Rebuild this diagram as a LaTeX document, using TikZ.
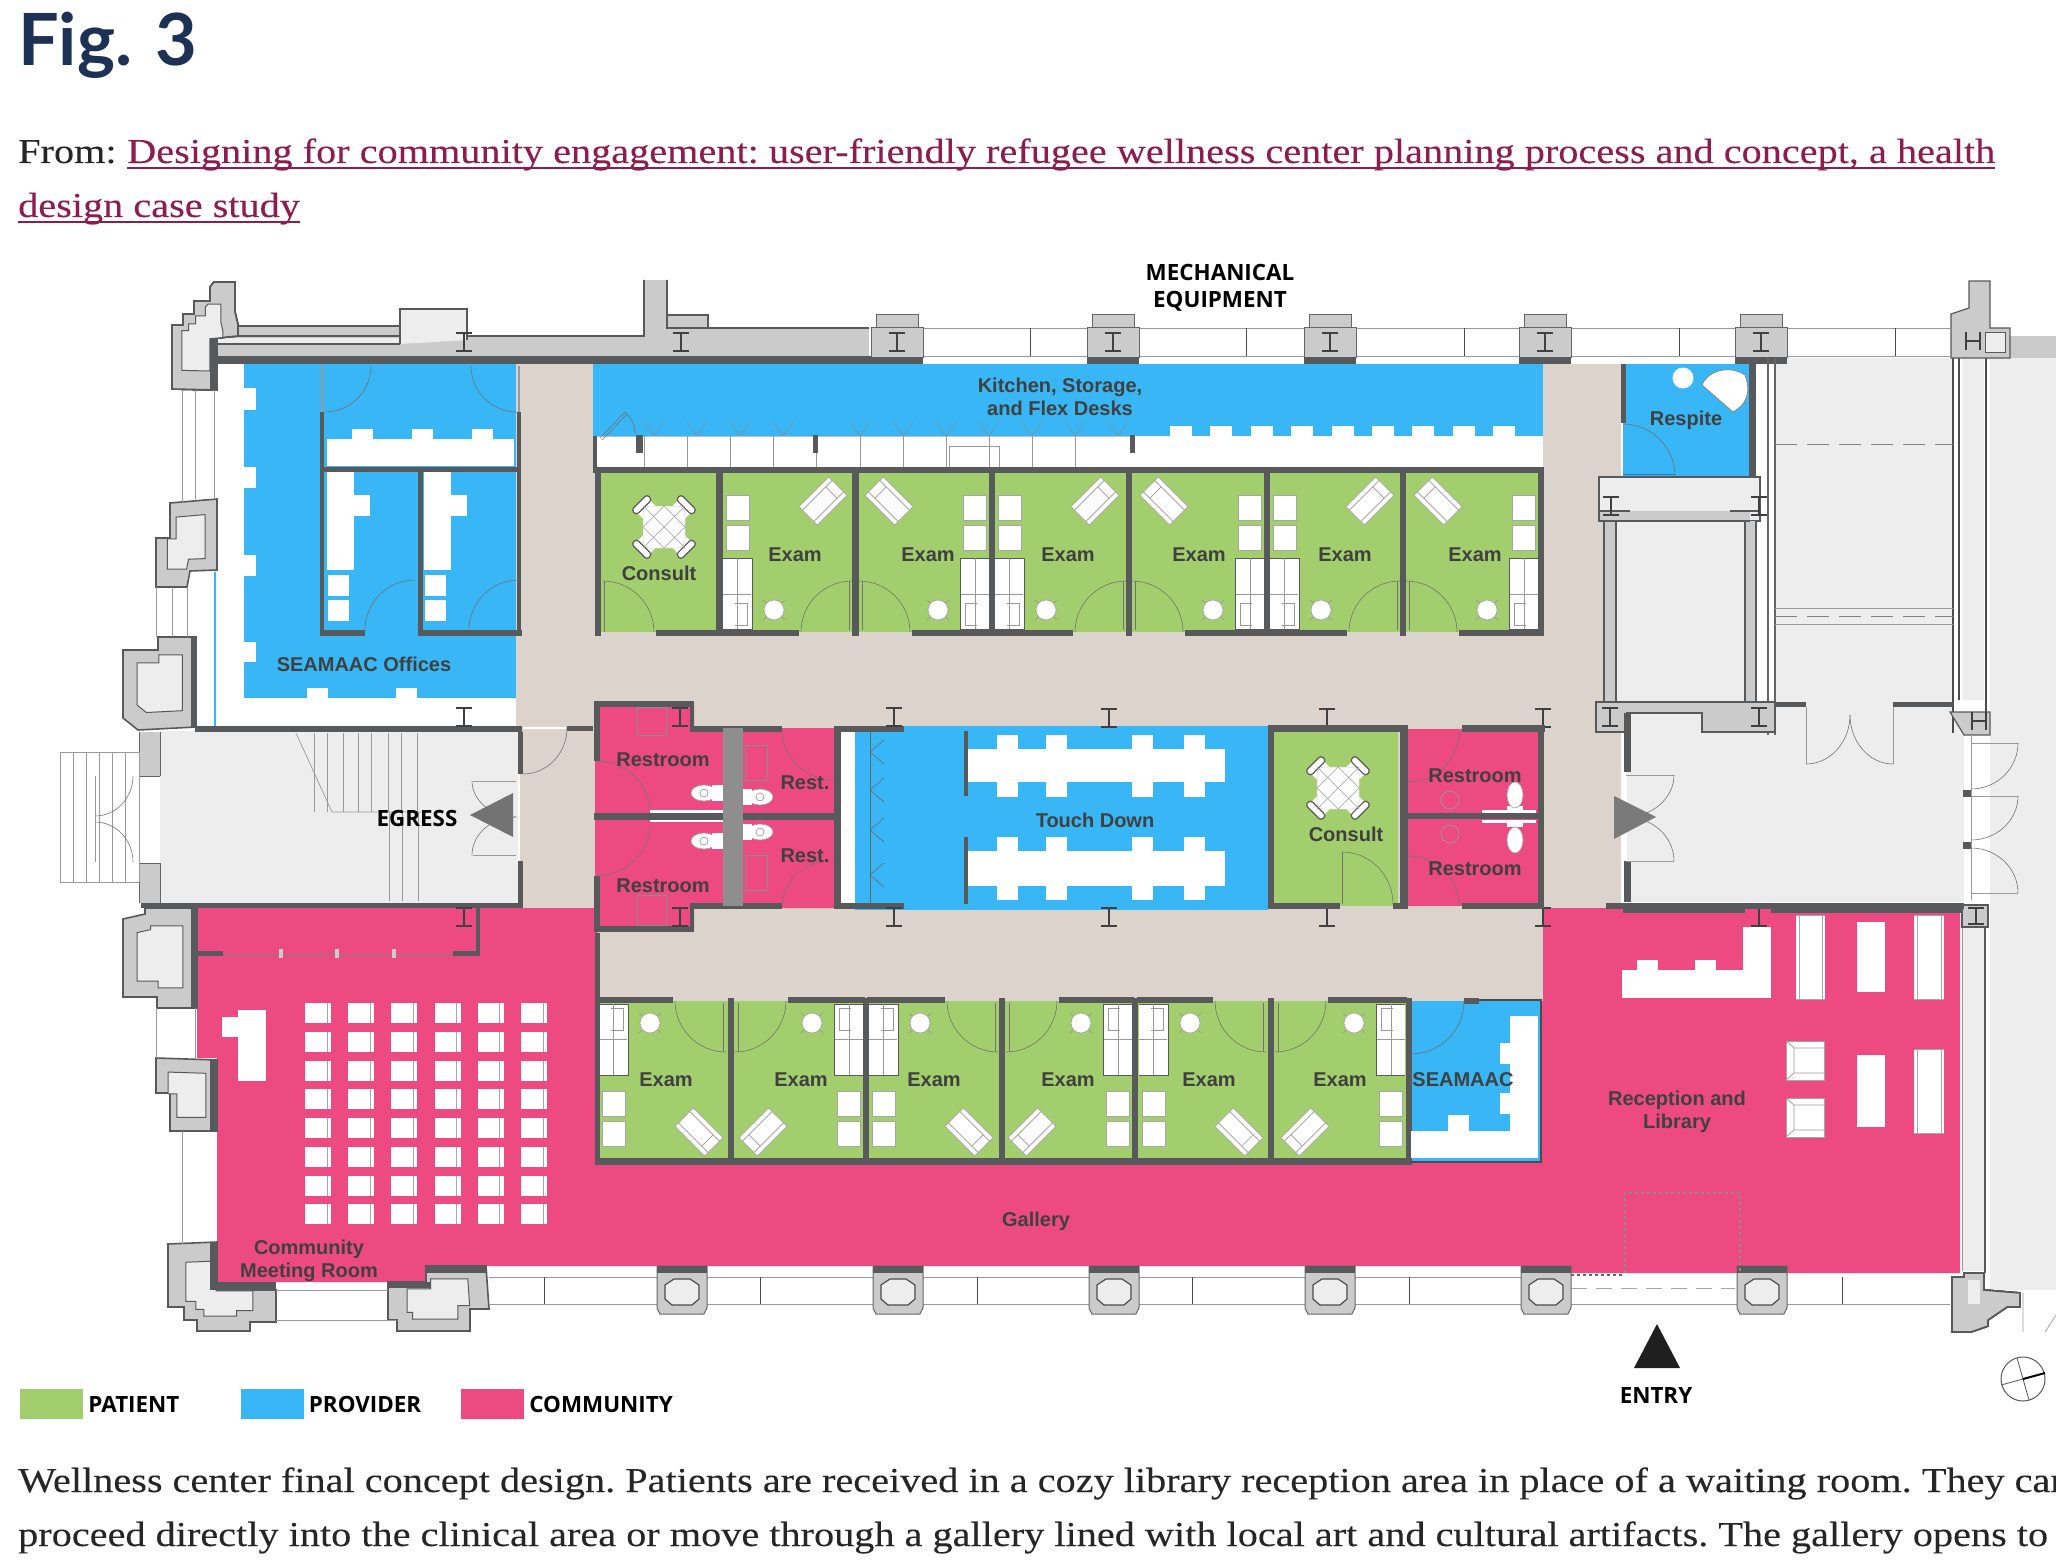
\documentclass[tikz,border=0pt]{standalone}
\usepackage{fontspec}
\setmainfont[FakeStretch=1.15,FakeBold=0.12]{Liberation Serif}
\newfontfamily\roomfont{Liberation Sans}
\newfontfamily\capsfont{Open Sans}
\newfontfamily\headfont{Lato}
\usetikzlibrary{positioning}
\definecolor{patientc}{HTML}{A2CE6D}
\definecolor{providerc}{HTML}{38B6F5}
\definecolor{communityc}{HTML}{EE4A82}
\definecolor{hallc}{HTML}{DCD3CD}
\definecolor{lightc}{HTML}{EDEDED}
\definecolor{wallc}{HTML}{CBCBCB}
\definecolor{darkc}{HTML}{58595B}
\definecolor{midc}{HTML}{8E8E8E}
\definecolor{navyc}{HTML}{1C3154}
\definecolor{linkc}{HTML}{8C1D4F}
\tikzset{
  roomlabel/.style={font=\roomfont\bfseries\fontsize{20}{22.5}\selectfont, text=black!75, align=center, inner sep=0pt},
  capslabel/.style={font=\capsfont\bfseries\fontsize{22.4}{27}\selectfont, text=black, align=center, inner sep=0pt},
  bodytext/.style={font=\frenchspacing\fontsize{35}{40}\selectfont, anchor=base west, inner sep=0pt, text=black!85},
  linktext/.style={bodytext, text=linkc},
  swatch/.style={minimum width=63pt, minimum height=30pt, inner sep=0pt},
  doorline/.style={draw=black!55, line width=.6pt},
  thinline/.style={draw=black!40, line width=.7pt},
  seat/.style={fill=white, draw=black!35, line width=.7pt},
  pier/.style={fill=wallc, draw=darkc, line width=1.6pt, line join=miter},
  pierin/.style={fill=lightc, draw=darkc, line width=1pt}
}
\newcommand{\doorswing}[4]{\draw[doorline] ({#1+(#3)},#2) .. controls ({#1+(#3)},{#2+.55*(#4)}) and ({#1+.55*(#3)},{#2+(#4)}) .. (#1,{#2+(#4)});}
\newcommand{\ibeam}[2]{\draw[black!75, line width=1.8pt] (#1-8,#2-9) -- (#1+8,#2-9) (#1,#2-9) -- (#1,#2+9) (#1-8,#2+9) -- (#1+8,#2+9);}
\newcommand{\pierblock}[3]{
  \draw[pier] #1 -- cycle;
  \begin{scope}[shift={(#2,#3)}, scale=.62, shift={(-#2,-#3)}]
    \draw[pierin] #1 -- cycle;
  \end{scope}
}
% one exam room: wall side, outer side, mirrored by the scales
\newcommand{\examroom}[6]{
  \begin{scope}[shift={(#1,#2)}, xscale=#3, yscale=#4]
    \draw[fill=white, draw=black!65, line width=.9pt] (0,86) -- (29,86) -- (29,157) -- (0,157);
    \draw[thinline] (0,122) -- (28,122) (14,86) -- (14,157) (12,131) -- (24,131) -- (24,153) -- (12,153);
    \draw[seat] (3,23+#6) rectangle (26,48+#6);
    \draw[seat] (3,53+#6) rectangle (26,78+#6);
    \draw[black!40, line width=.7pt] (51-11,138-10) -- (51+11,138+10) (51-11,138+10) -- (51+11,138-10);
    \draw[seat] (51,138) circle (10);
    \begin{scope}[shift={(100,29)}, rotate=45]
      \draw[seat, fill=white] (-21,-13) rectangle (21,13);
      \draw[thinline] (-21,-8) -- (21,-8) (-21,8) -- (21,8) (12,-8) -- (12,8);
    \end{scope}
    \fill[darkc] (-2,158) rectangle (#5-53,164);
    \doorswing{#5}{160}{-51}{-51}
    \draw[doorline] (#5-3,158) -- (#5-3,109);
  \end{scope}
}
\newcommand{\consulttable}[2]{
  \begin{scope}[shift={(#1,#2)}]
    \foreach \rr in {45,135,225,315} {
      \begin{scope}[rotate=\rr]
        \fill[white] (12,-9) rectangle (31,9);
        \draw[fill=white, draw=black!65, line width=1.2pt, rounded corners=3pt] (28,-11) rectangle (35,11);
      \end{scope}
    }
    \draw[fill=white, draw=black!20, line width=.5pt, rounded corners=7pt] (-21,-21) rectangle (21,21);
    \draw[black!32, line width=.7pt] (-21,-21) -- (21,21) (-21,21) -- (21,-21) (-21,0) -- (0,-21) -- (21,0) -- (0,21) -- cycle;
  \end{scope}
}
\newcommand{\topcol}[1]{
  \draw[fill=wallc, draw=black!60, line width=1pt] (#1-21,315) rectangle (#1+21,327);
  \draw[fill=wallc, draw=black!60, line width=1pt] (#1-26,327) rectangle (#1+26,357);
  \fill[darkc] (#1-26,357) rectangle (#1+26,364);
  \ibeam{#1}{342}
}
\newcommand{\botcol}[1]{
  \draw[fill=wallc, draw=black!60, line width=1pt] (#1-25,1266) -- (#1+25,1266) -- (#1+25,1308) -- (#1+22,1314) -- (#1-22,1314) -- (#1-25,1308) -- cycle;
  \fill[darkc] (#1-25,1266) rectangle (#1+25,1273);
  \draw[fill=lightc, draw=black!70, line width=1.2pt] (#1-17,1285) -- (#1-8,1279) -- (#1+8,1279) -- (#1+17,1285) -- (#1+17,1299) -- (#1+10,1305) -- (#1-10,1305) -- (#1-17,1299) -- cycle;
}
\newcommand{\toiletseat}[2]{
  \draw[seat] (#1,#2) ellipse (13 and 8);
  \draw[thinline] (#1,#2) circle (4);
}
\begin{document}
\begin{tikzpicture}[x=1pt, y=-1pt]
  \useasboundingbox (0,0) rectangle (2056,1562);

  % title and source line
  \node[font=\headfont\bfseries\fontsize{72}{74}\selectfont, text=navyc, anchor=base west, inner sep=0pt] (figtitle) at (18,66) {Fig. 3};
  \node[bodytext] (fromtext) at (18,163) {From:};
  \node[linktext] (linkone) at (127,163) {Designing for community engagement: user-friendly refugee wellness center planning process and concept, a health};
  \node[linktext] (linktwo) at (18,217) {design case study};
  \draw[linkc, line width=2pt] ([yshift=-5pt]linkone.base west) -- ([yshift=-5pt]linkone.base east);
  \draw[linkc, line width=2pt] ([yshift=-5pt]linktwo.base west) -- ([yshift=-5pt]linktwo.base east);

  % floor colours
  \fill[hallc] (516,364) rectangle (1621,908);
  \fill[communityc] (197,908) -- (1960,908) -- (1960,1273) -- (1571,1273) -- (1571,1266) -- (426,1266) -- (426,1282) -- (217,1282) -- (217,1058) -- (197,1058) -- cycle;
  \fill[hallc] (598,908) rectangle (1543,1001);
  \fill[providerc] (244,364) rectangle (516,698);
  \fill[white] (217,364) rectangle (244,726);
  \fill[white] (217,698) rectangle (516,726);
  \fill[providerc] (593,364) rectangle (1543,436);
  \fill[white] (595,436) rectangle (1543,467);
  \fill[patientc] (599,472) rectangle (1538,632);
  \fill[patientc] (599,1001) rectangle (1410,1158);
  \fill[providerc] (1411,1001) rectangle (1541,1162);
  \fill[providerc] (1623,364) rectangle (1750,476);
  \fill[communityc] (595,702) -- (694,702) -- (694,728) -- (835,728) -- (835,908) -- (694,908) -- (694,930) -- (595,930) -- cycle;
  \fill[white] (841,730) rectangle (855,906);
  \fill[providerc] (855,726) rectangle (1268,910);
  \fill[patientc] (1273,732) rectangle (1398,906);
  \fill[communityc] (1408,729) rectangle (1538,906);
  \fill[lightc] (160,731) rectangle (519,904);
  \fill[lightc] (1627,713) rectangle (1964,902);
  \fill[lightc] (1775,358) rectangle (1953,720);
  \fill[lightc] (1990,358) rectangle (2056,1290);
  \fill[lightc] (1616,521) rectangle (1745,703);

  % outer building, north side
  \draw[thinline] (920,328) -- (1950,328) (920,356) -- (1950,356);
  \foreach \x in {1030,1246,1464,1679,1895}
    \draw[black!70, line width=1pt] (\x,328) -- (\x,356);
  \fill[wallc] (210,336) rectangle (644,356);
  \fill[wallc] (644,280) rectangle (667,356);
  \fill[wallc] (667,328) rectangle (869,356);
  \fill[wallc] (238,326) rectangle (400,336);
  \fill[lightc] (217,338) rectangle (400,343);
  \draw[darkc, line width=1.6pt] (644,280) -- (644,336) -- (467,336) (667,280) -- (667,324) -- (708,328) -- (869,328) (238,326) -- (400,326);
  \draw[darkc, line width=1.2pt] (217,336) -- (400,336) (217,344) -- (400,344);
  \draw[fill=wallc, draw=darkc, line width=1.4pt] (667,315) rectangle (708,328);
  \fill[darkc] (210,356) rectangle (920,364);
  \draw[fill=lightc, draw=darkc, line width=1.6pt] (400,344) -- (400,309) -- (467,309) -- (467,340);
  \fill[darkc] (210,364) rectangle (217,390);
  \foreach \x in {897,1113,1330,1545,1761}
    \topcol{\x}
  \ibeam{464}{342}
  \ibeam{681}{342}
  \pierblock{(172,325) -- (183,325) -- (183,314) -- (194,314) -- (194,301) -- (210,301) -- (210,287) -- (214,282) -- (235,282) -- (235,312) -- (238,325) -- (238,336) -- (217,338) -- (217,390) -- (172,389)}{198}{340}
  \fill[darkc] (210,338) rectangle (217,390);

  % piers on the west side
  \pierblock{(170,503) -- (217,499) -- (217,570) -- (190,571) -- (187,587) -- (156,587) -- (156,538) -- (170,538)}{186}{540}
  \pierblock{(123,650) -- (158,650) -- (158,637) -- (196,637) -- (196,727) -- (138,730) -- (123,718)}{160}{684}
  \pierblock{(123,919) -- (145,914) -- (145,908) -- (197,908) -- (197,1008) -- (157,1008) -- (157,997) -- (123,997)}{160}{955}
  \pierblock{(156,1058) -- (217,1060) -- (217,1131) -- (170,1131) -- (170,1093) -- (156,1093)}{188}{1095}
  \pierblock{(168,1244) -- (217,1242) -- (217,1290) -- (276,1290) -- (276,1322) -- (250,1322) -- (250,1331) -- (197,1331) -- (197,1320) -- (184,1320) -- (184,1307) -- (168,1307)}{215}{1292}
  \pierblock{(388,1282) -- (426,1282) -- (426,1266) -- (486,1266) -- (489,1309) -- (470,1309) -- (470,1331) -- (397,1331) -- (397,1320) -- (388,1320)}{438}{1300}
  \fill[darkc] (210,1242) rectangle (217,1290);
  \fill[darkc] (210,1282) rectangle (276,1289);
  \fill[darkc] (388,1282) rectangle (430,1288);
  \fill[darkc] (426,1266) rectangle (486,1273);
  \fill[darkc] (210,1060) rectangle (217,1131);
  \fill[darkc] (191,908) rectangle (197,1008);
  \fill[darkc] (191,637) rectangle (196,727);
  \draw[thinline] (182,390) -- (182,503) (195,390) -- (195,499) (214,390) -- (214,499);
  \draw[thinline] (156,587) -- (156,637) (172,587) -- (172,637) (187,587) -- (187,637);
  \draw[providerc, line width=2pt] (215,572) -- (215,726);
  \draw[thinline] (156,1008) -- (156,1058) (182,1131) -- (182,1244) (195,1008) -- (195,1058);

  % south side of the building
  \draw[thinline] (489,1277) -- (1571,1277) (489,1304) -- (1950,1304) (276,1290) -- (388,1290) (276,1320) -- (397,1320);
  \foreach \x in {544,760,977,1192,1409,1842}
    \draw[black!70, line width=1pt] (\x,1277) -- (\x,1304);
  \draw[black!35, line width=.8pt, dash pattern=on 16pt off 9pt] (1571,1288) -- (1735,1288);
  \foreach \x in {682,898,1114,1330,1546,1762}
    \botcol{\x}
  \draw[pier] (1952,1332) -- (1952,1277) -- (1964,1277) -- (1964,1273) -- (1984,1273) -- (1984,1290) -- (2020,1293) -- (2020,1307) -- (2007,1307) -- (1988,1320) -- (1988,1326) -- (1971,1332) -- cycle;
  \fill[lightc] (1968,1280) -- (1980,1280) -- (1980,1304) -- (1968,1304) -- cycle;
  \draw[thinline] (2023,1293) -- (2023,1332) (2045,1332) -- (2056,1315);

  % seamaac offices
  \foreach \y/\z in {388/410, 467/488, 555/576, 642/662}
    \fill[white] (244,\y) rectangle (256,\z);
  \foreach \x in {307,396}
    \fill[white] (\x,688) rectangle (\x+21,698);
  \fill[white] (327,439) rectangle (514,466);
  \foreach \x in {352,412,472}
    \fill[white] (\x,429) rectangle (\x+21,439);
  \foreach \x in {327,424} {
    \fill[white] (\x,472) rectangle (\x+27,570);
    \fill[white] (\x+27,495) rectangle (\x+43,516);
    \fill[white] (\x+1,575) rectangle (\x+22,596);
    \fill[white] (\x+1,600) rectangle (\x+22,621);
  }
  \draw[thinline, line width=1.2pt] (322,366) -- (322,412) (519,366) -- (519,412);
  \foreach \a/\b/\c/\d in {320/412/324/636, 517/412/521/636, 322/467/519/472, 418/472/423/636, 320/630/365/636, 418/630/522/636}
    \fill[darkc] (\a,\b) rectangle (\c,\d);
  \doorswing{325}{366}{46}{46}
  \doorswing{517}{366}{-46}{46}
  \doorswing{415}{630}{-50}{-50}
  \doorswing{519}{630}{-50}{-50}

  % kitchen counter and exam rooms on the north corridor
  \foreach \x in {0,...,8}
    \fill[white] (1170+\x*40.4,426) rectangle (1192+\x*40.4,436);
  \foreach \x in {654,697,740,783,860,903,946,989,1032,1075,1118}
    \draw[black!45, line width=.5pt] (\x-10,422) -- (\x,436) -- (\x+10,422);
  \draw[black!25, line width=.6pt] (595,436) -- (1132,436);
  \foreach \x in {644,687,730,773,816,860,903,946,989,1032,1075}
    \draw[thinline] (\x,436) -- (\x,467);
  \draw[thinline] (949,446) rectangle (999,467);
  \fill[white] (600,438) rectangle (635,443);
  \draw[black!55, line width=.6pt] (600,438) -- (625,412) (602,440) -- (627,414) (625,412) .. controls (632,418) and (635,426) .. (635,433);
  \foreach \a/\b/\c/\d in {593/436/597/467, 636/435/643/453, 813/435/818/453, 1130/435/1135/453}
    \fill[darkc] (\a,\b) rectangle (\c,\d);
  \fill[darkc] (593,467) rectangle (1544,473);
  \examroom{723}{472}{1}{1}{129}{0}
  \examroom{989}{472}{-1}{1}{130}{0}
  \examroom{995}{472}{1}{1}{131}{0}
  \examroom{1264}{472}{-1}{1}{132}{0}
  \examroom{1270}{472}{1}{1}{130}{0}
  \examroom{1538}{472}{-1}{1}{132}{0}
  \fill[darkc] (656,630) rectangle (716,636);
  \foreach \a/\b/\c/\d in {595/467/601/636, 716/467/723/636, 852/467/859/636, 989/467/995/636, 1126/467/1132/636, 1264/467/1270/636, 1400/467/1406/636, 1538/467/1544/636}
    \fill[darkc] (\a,\b) rectangle (\c,\d);
  \doorswing{603}{632}{51}{-51}
  \draw[doorline] (604,632) -- (604,581);
  \consulttable{664}{527}

  % respite
  \fill[darkc] (1621,364) rectangle (1626,423);
  \fill[darkc] (1749,358) rectangle (1756,477);
  \draw[seat, draw=none] (1683,378) circle (10.5);
  \draw[fill=white, draw=black!50, line width=.7pt] (1702,385) .. controls (1708,370) and (1730,365) .. (1745,375) .. controls (1752,395) and (1745,405) .. (1733,412) -- cycle;
  \doorswing{1623}{476}{52}{-52}
  \draw[providerc!70!black, line width=1pt] (1623,474) -- (1675,474);

  % stair and service rooms on the east
  \draw[black!60, line width=1.2pt] (1768,358) -- (1768,735) (1775,358) -- (1775,735) (1756,477) -- (1756,700);
  \draw[black!70, line width=1.6pt] (1953,358) -- (1953,733) (1959,358) -- (1959,700) (1986,358) -- (1986,733);
  \fill[lightc] (1962,358) rectangle (1984,700);
  \draw[fill=lightc, draw=darkc, line width=1.4pt] (1599,477) rectangle (1760,521);
  \fill[wallc] (1600,511) rectangle (1750,521);
  \fill[wallc] (1604,521) rectangle (1616,703);
  \fill[wallc] (1745,521) rectangle (1756,703);
  \draw[darkc, line width=1.4pt] (1604,521) -- (1604,703) (1616,521) -- (1616,703) (1745,521) -- (1745,703) (1756,521) -- (1756,703) (1600,511) -- (1630,511) (1600,521) -- (1750,521) (1730,511) -- (1760,511);
  \draw[fill=wallc, draw=darkc, line width=1.4pt] (1596,702) -- (1775,702) -- (1775,732) -- (1702,732) -- (1702,713) -- (1627,713) -- (1627,732) -- (1596,732) -- cycle;
  \fill[darkc] (1775,702) rectangle (1806,707);
  \fill[darkc] (1893,702) rectangle (1953,707);
  \draw[black!50, line width=1pt, dash pattern=on 22pt off 10pt] (1775,444) -- (1953,444) (1775,616) -- (1953,616);
  \draw[thinline] (1775,608) -- (1953,608) (1775,624) -- (1953,624);
  \ibeam{1611}{506}
  \ibeam{1759}{506}
  \ibeam{1610}{717}
  \ibeam{1759}{717}
  \fill[wallc] (1990,336) rectangle (2056,358);
  \draw[fill=wallc, draw=darkc, line width=1.2pt] (1969,281) -- (1990,281) -- (1990,328) -- (2010,328) -- (2010,358) -- (1951,358) -- (1951,314) -- (1969,308) -- cycle;
  \draw[fill=lightc, draw=darkc, line width=1pt] (1985,332) rectangle (2005,352);
  \draw[black!75, line width=1.8pt] (1966,332) -- (1966,350) (1966,341) -- (1980,341) (1980,332) -- (1980,350);
  \draw[fill=wallc, draw=darkc, line width=1.2pt] (1950,712) -- (1990,712) -- (1990,735) -- (1964,735) -- cycle;
  \draw[black!75, line width=1.8pt] (1972,712) -- (1972,730) (1972,721) -- (1986,721) (1986,712) -- (1986,730);

  % east lobby
  \foreach \a/\b/\c/\d in {1624/713/1631/772, 1624/861/1631/902, 1606/903/1964/909}
    \fill[darkc] (\a,\b) rectangle (\c,\d);
  \draw[thinline] (1806,707) -- (1806,764) (1893,707) -- (1893,764) (1626,775) -- (1674,775) (1626,861) -- (1674,861);
  \doorswing{1806}{715}{44}{49}
  \doorswing{1893}{715}{-43}{49}
  \doorswing{1626}{775}{48}{42}
  \doorswing{1626}{861}{48}{-44}
  \draw[thinline] (1971,743) -- (2018,743) (1971,796) -- (2018,796) (1971,893) -- (2018,893) (1971,735) -- (1971,900);
  \doorswing{1971}{743}{47}{46}
  \doorswing{1971}{796}{47}{44}
  \doorswing{1971}{893}{47}{-45}
  \fill[darkc] (1963,790) rectangle (1971,797);
  \fill[darkc] (1963,842) rectangle (1971,849);

  % egress hall
  \foreach \a/\b/\c/\d in {195/726/522/732, 141/903/522/908, 518/732/523/774, 518/861/523/908, 567/726/593/731}
    \fill[darkc] (\a,\b) rectangle (\c,\d);
  \fill[wallc] (139,732) rectangle (160,776);
  \fill[wallc] (139,863) rectangle (160,903);
  \draw[black!60, line width=1pt] (139,732) -- (139,776) -- (160,776) (139,903) -- (139,863) -- (160,863) (160,732) -- (160,776) (160,863) -- (160,903);
  \draw[thinline] (60,752) -- (139,752) (60,882) -- (139,882) (60,752) -- (60,882);
  \foreach \x in {73,86,99,112,125,139}
    \draw[thinline] (\x,752) -- (\x,882);
  \doorswing{95}{776}{38}{40}
  \doorswing{95}{862}{38}{-40}
  \draw[thinline] (95,776) -- (95,862);
  \draw[thinline] (296,733) -- (332,812) -- (421,812);
  \foreach \x in {314,327,343,358,371,388,401,417}
    \draw[thinline] (\x,733) -- (\x,812);
  \foreach \x in {389,402,418}
    \draw[thinline] (\x,812) -- (\x,901);
  \draw[thinline] (473,781) -- (516,781) (473,855) -- (516,855);
  \doorswing{516}{781}{-44}{36}
  \doorswing{516}{855}{-44}{-38}
  \draw[white, line width=1.2pt] (519,774) -- (519,861);
  \doorswing{523}{728}{44}{46}
  \draw[white, line width=1.2pt] (523,728) -- (566,728);

  % restrooms west of touch down
  \foreach \a/\b/\c/\d in {594/701/694/707, 594/701/600/761, 690/701/694/732, 690/726/782/732, 594/813/836/820, 594/876/600/932, 594/926/694/932, 690/908/694/932, 690/903/782/909, 834/726/904/732, 834/726/841/908, 834/903/904/909}
    \fill[darkc] (\a,\b) rectangle (\c,\d);
  \fill[midc] (723,728) rectangle (743,906);
  \draw[thinline, draw=black!45] (637,707) rectangle (666,735);
  \draw[thinline, draw=black!45] (745,745) rectangle (767,780);
  \draw[thinline, draw=black!45] (745,855) rectangle (767,890);
  \draw[thinline, draw=black!45] (637,895) rectangle (666,925);
  \ibeam{680}{717}
  \ibeam{680}{917}
  \doorswing{595}{811}{55}{-50}
  \doorswing{595}{825}{55}{51}
  \doorswing{834}{730}{-52}{50}
  \doorswing{834}{906}{-52}{-46}
  \fill[white] (650,810) rectangle (723,813);
  \fill[white] (650,820) rectangle (723,822);
  \toiletseat{704}{793}
  \toiletseat{760}{797}
  \toiletseat{704}{841}
  \toiletseat{760}{832}
  \fill[white] (712,785) rectangle (723,801);
  \fill[white] (743,789) rectangle (752,805);
  \fill[white] (712,833) rectangle (723,849);
  \fill[white] (743,824) rectangle (752,840);

  % touch down
  \foreach \y/\z in {749/782, 851/886}
    \fill[white] (967,\y) rectangle (1225,\z);
  \foreach \x in {997,1046,1132,1184} {
    \fill[white] (\x,735) rectangle (\x+21,749);
    \fill[white] (\x,782) rectangle (\x+21,797);
    \fill[white] (\x,837) rectangle (\x+21,851);
    \fill[white] (\x,886) rectangle (\x+21,900);
  }
  \fill[darkc] (964,731) rectangle (968,796);
  \fill[darkc] (964,837) rectangle (968,904);
  \draw[black!60, line width=.6pt] (870,732) -- (870,904);
  \foreach \y in {752,790,830,875}
    \draw[black!60, line width=.5pt] (870,\y) -- (884,\y-12) (870,\y) -- (884,\y+12);
  \ibeam{464}{717}
  \ibeam{894}{717}
  \ibeam{464}{917}
  \ibeam{894}{917}
  \foreach \x in {1109,1327,1543} {
    \ibeam{\x}{718}
    \ibeam{\x}{917}
  }
  \ibeam{1759}{917}

  % consult and restrooms east of touch down
  \foreach \a/\b/\c/\d in {1268/725/1408/732, 1268/725/1274/909, 1400/732/1408/909, 1268/903/1340/909, 1393/903/1408/909, 1462/725/1545/732, 1538/725/1544/909, 1400/813/1540/819, 1462/903/1544/909}
    \fill[darkc] (\a,\b) rectangle (\c,\d);
  \consulttable{1338}{788}
  \doorswing{1342}{904}{51}{-52}
  \draw[doorline] (1342,904) -- (1342,852);
  \doorswing{1408}{732}{51}{50}
  \doorswing{1408}{906}{51}{-50}
  \draw[thinline] (1450,800) circle (9) (1450,834) circle (9);
  \fill[white] (1482,810) rectangle (1536,813);
  \fill[white] (1482,820) rectangle (1536,823);
  \fill[white] (1507,806) rectangle (1523,813);
  \fill[white] (1507,820) rectangle (1523,827);
  \draw[seat] (1515,795) ellipse (8 and 13);
  \draw[seat] (1515,840) ellipse (8 and 13);

  % community meeting room
  \foreach \a/\b/\c/\d in {196/951/223/956, 453/951/480/956, 476/908/480/956}
    \fill[darkc] (\a,\b) rectangle (\c,\d);
  \draw[black!50, line width=1pt] (223,954) -- (453,954);
  \foreach \x in {281,337,394}
    \fill[white!80!black] (\x-2,949) rectangle (\x+2,958);
  \fill[white] (238,1010) rectangle (266,1081);
  \fill[white] (222,1017) rectangle (238,1037);
  \foreach \x in {0,...,5}
    \foreach \y in {0,...,7} {
      \fill[white] (305+\x*43.2,1003+\y*28.75) rectangle (331+\x*43.2,1023+\y*28.75);
      \draw[black!35, line width=.7pt] (327+\x*43.2,1003+\y*28.75) -- (327+\x*43.2,1023+\y*28.75);
    }

  % exam rooms on the gallery side
  \examroom{599}{1161}{1}{-1}{127}{-8}
  \examroom{863}{1161}{-1}{-1}{128}{-8}
  \examroom{869}{1161}{1}{-1}{129}{-8}
  \examroom{1132}{1161}{-1}{-1}{126}{-8}
  \examroom{1139}{1161}{1}{-1}{127}{-8}
  \examroom{1405}{1161}{-1}{-1}{130}{-8}
  \foreach \x in {728,863,999,1132,1268,1406}
    \fill[darkc] (\x,998) rectangle (\x+6,1165);
  \fill[darkc] (595,933) rectangle (600,1165);
  \fill[darkc] (595,1158) rectangle (1411,1165);

  % seamaac store beside them
  \fill[white] (1510,1016) rectangle (1538,1158);
  \fill[white] (1500,1043) rectangle (1510,1064);
  \fill[white] (1500,1093) rectangle (1510,1114);
  \fill[white] (1411,1131) rectangle (1510,1158);
  \fill[white] (1448,1115) rectangle (1469,1131);
  \draw[black!70, line width=1.4pt] (1464,1000) -- (1541,1000) -- (1541,1162) -- (1411,1162);
  \fill[darkc] (1464,998) rectangle (1479,1004);
  \doorswing{1411}{1001}{53}{53}

  % reception
  \fill[white] (1622,970) rectangle (1771,998);
  \fill[white] (1743,927) rectangle (1771,970);
  \fill[white] (1637,960) rectangle (1658,970);
  \fill[white] (1695,960) rectangle (1716,970);
  \foreach \a/\b/\c/\d in {1796/915/1825/999, 1914/915/1944/999, 1914/1049/1944/1133} {
    \fill[white] (\a,\b) rectangle (\c,\d);
    \draw[black!35, line width=.7pt] (\a+3,\b) -- (\a+3,\d) (\c-3,\b) -- (\c-3,\d) (\a,\b) -- (\c,\b) (\a,\d) -- (\c,\d);
  }
  \fill[white] (1857,922) rectangle (1885,992);
  \fill[white] (1857,1055) rectangle (1885,1127);
  \foreach \y in {1041,1098} {
    \draw[seat] (1786,\y) rectangle (1824,\y+39);
    \draw[thinline] (1786,\y) -- (1794,\y+7) -- (1824,\y+7) (1786,\y+39) -- (1794,\y+32) -- (1824,\y+32) (1794,\y+7) -- (1794,\y+32);
  }
  \draw[black!45, line width=1.4pt, dashed] (1625,1273) -- (1625,1193) -- (1740,1193) -- (1740,1273);
  \draw[black!60, line width=1.2pt, dashed] (1571,1275) -- (1625,1275);
  \fill[lightc] (1962,927) rectangle (1984,1271);
  \draw[darkc, line width=1.6pt] (1985,905) -- (1985,1273);
  \draw[thinline] (1962,927) -- (1962,1271);
  \draw[fill=wallc, draw=darkc, line width=1.2pt] (1962,905) rectangle (1988,927);
  \draw[black!75, line width=1.8pt] (1968,908) -- (1984,908) (1976,908) -- (1976,924) (1968,924) -- (1984,924);
  \fill[darkc] (1606,903) rectangle (1964,909);
  \fill[darkc] (1623,909) rectangle (1745,913);
  \fill[darkc] (1771,909) rectangle (1962,913);

  % arrows
  \fill[black!55] (513,793) -- (513,837) -- (470,815) -- cycle;
  \fill[black!52] (1614,796) -- (1614,839) -- (1656,817) -- cycle;
  \fill[black!88] (1657,1324) -- (1634,1368) -- (1680,1368) -- cycle;

  % compass
  \draw[black!65, line width=1pt] (2023,1379) circle (22);
  \draw[black!65, line width=.8pt] (2001,1385) -- (2045,1373) (2017,1358) -- (2029,1400);
  \draw[black, line width=2pt] (2023,1379) -- (2045,1373);

  % room names
  \node[roomlabel] (kitchenlabel) at (1060,397) {Kitchen, Storage,\\and Flex Desks};
  \node[roomlabel] (officelabel) at (364,664) {SEAMAAC Offices};
  \node[roomlabel] (respitelabel) at (1686,420) {Respite};
  \node[roomlabel] (consultone) at (659,573) {Consult};
  \node[roomlabel] (consulttwo) at (1346,834) {Consult};
  \foreach \nm/\x/\y in {examA/795/555, examB/928/555, examC/1068/555, examD/1199/555, examE/1345/555, examF/1475/555, examG/666/1080, examH/801/1080, examI/934/1080, examJ/1068/1080, examK/1209/1080, examL/1340/1080}
    \node[roomlabel] (\nm) at (\x,\y) {Exam};
  \node[roomlabel] (restroomA) at (663,760) {Restroom};
  \node[roomlabel] (restroomB) at (663,886) {Restroom};
  \node[roomlabel] (restA) at (805,783) {Rest.};
  \node[roomlabel] (restB) at (805,856) {Rest.};
  \node[roomlabel] (restroomC) at (1475,776) {Restroom};
  \node[roomlabel] (restroomD) at (1475,869) {Restroom};
  \node[roomlabel] (touchlabel) at (1095,820) {Touch Down};
  \node[roomlabel] (storelabel) at (1463,1080) {SEAMAAC};
  \node[roomlabel] (gallerylabel) at (1036,1221) {Gallery};
  \node[roomlabel] (receptionlabel) at (1677,1112) {Reception and\\Library};
  \node[roomlabel] (meetinglabel) at (309,1261) {Community\\Meeting Room};
  \node[capslabel] (mechlabel) at (1220,288) {MECHANICAL\\EQUIPMENT};
  \node[capslabel] (egresslabel) at (417,818) {EGRESS};
  \node[capslabel] (entrylabel) at (1656,1395) {ENTRY};

  % legend
  \node[swatch, fill=patientc] (patientkey) at (51.5,1404) {};
  \node[capslabel, right=5pt of patientkey] (patientlabel) {PATIENT};
  \node[swatch, fill=providerc] (providerkey) at (272,1404) {};
  \node[capslabel, right=5pt of providerkey] (providerlabel) {PROVIDER};
  \node[swatch, fill=communityc] (communitykey) at (492.5,1404) {};
  \node[capslabel, right=5pt of communitykey] (communitylabel) {COMMUNITY};

  % caption
  \node[bodytext] (captionone) at (18,1492) {Wellness center final concept design. Patients are received in a cozy library reception area in place of a waiting room. They can};
  \node[bodytext] (captiontwo) at (18,1546) {proceed directly into the clinical area or move through a gallery lined with local art and cultural artifacts. The gallery opens to a};
\end{tikzpicture}
\end{document}
